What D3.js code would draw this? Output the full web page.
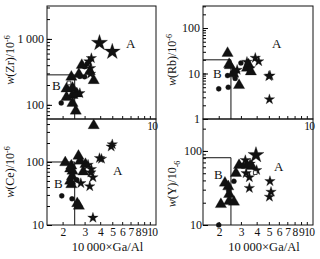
<!DOCTYPE html>
<html>
<head>
<meta charset="utf-8">
<script src="https://cdn.jsdelivr.net/npm/d3@7"></script>
<style>
  body { margin: 0; background: #fff; }
  text { font-family: "Liberation Serif", "DejaVu Serif", serif; fill: #111; }
</style>
</head>
<body>
<svg id="chart" width="320" height="259"></svg>
<script>
// x: 10000*Ga/Al, shared by the four panels
const gaAlTicks = [2, 3, 4, 5, 6, 7, 8, 9, 10];
const gaAlLimit = 2.5;

// w(Zr)
const zrTicks = [100, 1000];
const zrLimit = 285;
const zrTriangle = [[2.85, 400], [3.3, 320], [2.7, 290], [2.35, 265], [3.55, 235], [2.15, 175], [2.4, 180],
  [2.4, 140], [2.6, 148], [2.15, 130], [2.4, 106], [2.55, 81]];
const zrCircle = [[3.0, 380], [3.15, 420], [3.0, 266], [2.75, 270], [1.95, 107]];
const zrStar = [[3.4, 510], [3.25, 455], [3.35, 360], [3.35, 295], [2.75, 150]];
const zrBigStar = [[3.95, 870], [5.0, 640]];
const zrSquare = [[2.25, 215]];

// w(Rb)
const rbTicks = [1, 10, 100];
const rbLimit = 20;
const rbTriangle = [[2.35, 28], [2.42, 16], [2.45, 15], [2.9, 5.5], [2.6, 10], [3.45, 15.5], [3.35, 13.2], [3.6, 11]];
const rbCircle = [[2.35, 9], [2.0, 4.6], [2.38, 5.0], [2.7, 7.8], [3.0, 17]];
const rbStar = [[2.8, 12], [2.7, 10.1], [3.35, 18], [3.55, 13], [3.9, 22], [4.15, 18.5], [5.1, 9], [5.0, 8.7], [5.05, 2.7]];

// w(Ce)
const ceTicks = [10, 100];
const ceLimit = 100;
const ceTriangle = [[3.55, 380], [2.68, 124], [2.1, 98], [2.35, 87], [2.4, 72], [2.38, 59], [2.3, 50], [2.76, 104],
  [2.93, 70], [3.05, 92], [2.3, 78], [2.35, 44], [2.62, 22], [2.7, 20]];
const ceCircle = [[1.97, 29], [2.38, 26], [2.6, 52]];
const ceStar = [[5.0, 190], [4.9, 175], [3.95, 115], [4.1, 112], [3.2, 90], [3.37, 68], [3.4, 77], [3.5, 57],
  [2.8, 46], [3.3, 41], [3.5, 13]];

// w(Y)
const yTicks = [10, 100];
const yLimit = 81;
const yTriangle = [[3.65, 62], [2.9, 64], [3.35, 64], [2.74, 50], [2.24, 37], [2.38, 33], [2.42, 26], [2.08, 19],
  [2.42, 21], [2.64, 20.5]];
const yCircle = [[3.1, 64], [2.64, 39], [2.4, 29], [2.0, 10]];
const yStar = [[3.25, 75], [3.55, 67], [4.0, 55], [3.3, 50], [3.5, 44], [3.5, 31.5], [5.1, 39], [5.2, 28], [5.05, 24]];
const yBigStar = [[3.95, 88]];
const ySquare = [[3.9, 51]];

const svg = d3.select("#chart");

// minor log ticks inside a domain
function logMinor(domain) {
  let out = [];
  for (let d = Math.floor(Math.log10(domain[0])); d <= Math.ceil(Math.log10(domain[1])); d++) {
    for (let k = 1; k < 10; k++) {
      let v = k * Math.pow(10, d);
      if (v >= domain[0] && v <= domain[1]) out.push(v);
    }
  }
  return out;
}

function drawPanel(p) {
  let g = svg.append("g");
  let x = d3.scaleLog().domain([1.5, 11.2]).range([p.left, p.right]);
  let y = d3.scaleLog().domain(p.yDomain).range([p.bottom, p.top]);

  // frame
  g.append("rect")
    .attr("x", p.left).attr("y", p.top)
    .attr("width", p.right - p.left).attr("height", p.bottom - p.top)
    .attr("fill", "none").attr("stroke", "#111").attr("stroke-width", 1);

  // x ticks (inward)
  let ax = g.append("g").attr("transform", `translate(0,${p.bottom})`)
    .call(d3.axisBottom(x).tickValues(gaAlTicks).tickSize(-3).tickPadding(p.xPad)
      .tickFormat(d => p.xLabels.includes(d) ? d : ""));
  ax.select(".domain").remove();
  ax.selectAll("text")
    .style("font-size", "11.5px").style("letter-spacing", "-0.6px")
    .attr("dx", d => d === 10 ? 2 : 0)
    .attr("fill", "#111");
  ax.selectAll("line").attr("stroke", "#111");

  // y ticks, minor then major
  let ym = g.append("g").attr("transform", `translate(${p.left},0)`)
    .call(d3.axisLeft(y).tickValues(logMinor(p.yDomain)).tickSize(-3).tickFormat(""));
  ym.select(".domain").remove();
  let ay = g.append("g").attr("transform", `translate(${p.left},0)`)
    .call(d3.axisLeft(y).tickValues(p.yTicks).tickSize(-5).tickPadding(p.yPad)
      .tickFormat(d => d >= 1000 ? d3.format(",")(d).replace(",", "\u2009") : d));
  ay.select(".domain").remove();
  ay.selectAll("text").style("font-size", "12px").attr("fill", "#111");

  // A/B boundary
  g.append("path")
    .attr("d", `M${p.left},${y(p.limit)}H${x(gaAlLimit)}V${p.bottom}`)
    .attr("fill", "none").attr("stroke", "#111").attr("stroke-width", 1);

  g.append("text").attr("x", p.aPos[0]).attr("y", p.aPos[1]).style("font-size", "13px").text("A");
  g.append("text").attr("x", p.bPos[0]).attr("y", p.bPos[1]).style("font-size", "13px").text("B");

  // y label
  let lab = g.append("text")
    .attr("transform", `translate(${p.labPos[0]},${p.labPos[1]}) rotate(-90)`)
    .attr("text-anchor", "middle")
    .style("font-size", "12px");
  lab.append("tspan").style("font-style", "italic").text("w");
  lab.append("tspan").text(p.name + "/10");
  lab.append("tspan").attr("dy", p.supDy).style("font-size", "8px").text("-6");

  if (p.title) {
    g.append("text")
      .attr("x", (p.left + p.right) / 2 + 6).attr("y", 251)
      .attr("text-anchor", "middle").style("font-size", "12.5px")
      .text("10\u2009000\u00d7Ga/Al");
  }

  let marks = [
    { data: p.tri || [], type: d3.symbolTriangle, size: 55, fill: "#111" },
    { data: p.dot || [], type: d3.symbolCircle, size: 20, fill: "#111" },
    { data: p.star || [], type: d3.symbolStar, size: 34, fill: "#111" },
    { data: p.bigStar || [], type: d3.symbolStar, size: 80, fill: "#111" },
    { data: p.square || [], type: d3.symbolSquare, size: 14, fill: "#fff" }
  ];
  marks.forEach(m => {
    g.selectAll(null).data(m.data).enter().append("path")
      .attr("transform", d => `translate(${x(d[0])},${y(d[1])})`)
      .attr("d", d3.symbol().type(m.type).size(m.size))
      .attr("fill", m.fill)
      .attr("stroke", "#111").attr("stroke-width", m.fill === "#fff" ? 0.8 : 0.3);
  });
}

drawPanel({
  name: "(Zr)", left: 47, right: 156, top: 6, bottom: 119, yDomain: [61, 3160], yTicks: zrTicks,
  limit: zrLimit, xLabels: [10], xPad: 3, yPad: 3, aPos: [126, 48], bPos: [52, 90], labPos: [14, 60], supDy: -4,
  tri: zrTriangle, dot: zrCircle, star: zrStar, bigStar: zrBigStar, square: zrSquare
});
drawPanel({
  name: "(Rb)", left: 203, right: 313, top: 6, bottom: 119, yDomain: [1, 305], yTicks: rbTicks,
  limit: rbLimit, xLabels: [10], xPad: 3, yPad: 3, aPos: [272, 48], bPos: [213, 78], labPos: [176, 60], supDy: -4,
  tri: rbTriangle, dot: rbCircle, star: rbStar
});
drawPanel({
  name: "(Ce)", left: 47, right: 156, top: 119, bottom: 225, yDomain: [10, 481], yTicks: ceTicks,
  limit: ceLimit, xLabels: gaAlTicks, xPad: 3, yPad: 3, aPos: [113, 175], bPos: [54, 188], labPos: [14, 172], supDy: -4,
  tri: ceTriangle, dot: ceCircle, star: ceStar, title: true
});
drawPanel({
  name: "(Y)", left: 203, right: 313, top: 119, bottom: 225, yDomain: [10, 270], yTicks: yTicks,
  limit: yLimit, xLabels: gaAlTicks, xPad: 3, yPad: 1, aPos: [274, 171], bPos: [214, 179], labPos: [176, 184], supDy: 4,
  tri: yTriangle, dot: yCircle, star: yStar, bigStar: yBigStar, square: ySquare, title: true
});
</script>
</body>
</html>
